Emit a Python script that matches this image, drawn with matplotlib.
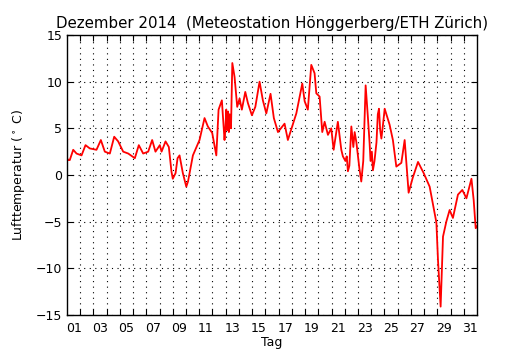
import matplotlib
matplotlib.use("Agg")
import matplotlib.pyplot as plt
from matplotlib.ticker import FixedLocator, NullFormatter, FixedFormatter

# days since 1 Dec 2014 00:00
day = [0.00, 0.09, 0.21, 0.47, 0.72, 1.10, 1.40, 1.72, 2.23, 2.56, 2.86, 3.24,
       3.57, 3.87, 4.25, 4.63, 5.13, 5.43, 5.76, 6.14, 6.44, 6.69, 7.02, 7.15,
       7.45, 7.70, 7.90, 8.00, 8.21, 8.36, 8.51, 8.76, 9.02, 9.15, 9.52, 10.02,
       10.40, 10.65, 10.98, 11.29, 11.46, 11.71, 11.91, 11.98, 12.04, 12.12, 12.18,
       12.24, 12.30, 12.40, 12.50, 12.67,
       12.87, 13.05, 13.22, 13.48, 13.68, 13.98, 14.24, 14.56, 14.81, 15.07, 15.39,
       15.64, 15.95, 16.45, 16.70, 17.34, 17.79, 17.97, 18.21, 18.47, 18.72, 18.85,
       19.10, 19.30, 19.48, 19.73, 19.98, 20.16, 20.30, 20.48, 20.60, 20.74, 20.86,
       21.05, 21.15, 21.24, 21.35, 21.50, 21.65, 21.75, 21.88, 22.00, 22.10, 22.25,
       22.40, 22.58, 22.75, 22.88, 22.95, 23.05, 23.13, 23.25, 23.40, 23.50, 23.59,
       23.68, 23.77, 23.90, 24.02, 24.39, 24.64,
       24.90, 25.28, 25.53, 25.83, 26.14, 26.54, 26.97, 27.42, 27.93, 28.05, 28.25,
       28.43, 28.68, 28.93, 29.18, 29.56, 29.89, 30.20, 30.58, 30.75, 30.90, 31.00]
temp = [1.8, 1.6, 1.6, 2.7, 2.3, 2.1, 3.2, 2.85, 2.7, 3.75, 2.5, 2.3,
        4.1, 3.6, 2.5, 2.3, 1.8, 3.2, 2.3, 2.5, 3.75, 2.5, 3.2, 2.5,
        3.6, 3.0, 0.35, -0.4, 0.2, 1.8, 2.1, 0.2, -1.25, -0.7, 2.1, 3.75,
        6.1, 5.2, 4.5, 2.1, 7.0, 8.0, 3.75, 5.0, 7.0, 4.8, 6.8,
        4.6, 6.5, 5.0, 12.0, 10.5,
        7.3, 8.2, 7.0, 8.9, 7.7, 6.4, 7.3, 10.0, 8.0, 6.6, 8.7,
        6.1, 4.6, 5.5, 3.75, 6.6, 9.8, 7.9, 7.0, 11.8, 10.9, 8.75,
        8.4, 4.6, 5.7, 4.3, 5.0, 2.7, 4.0, 5.7, 4.3, 2.7, 2.0,
        1.5, 2.0, 0.4, 1.0, 5.2, 3.0, 4.6, 3.5, 2.0, 0.8, -0.7,
        1.5, 9.6, 6.2, 3.4, 1.5, 2.5, 0.5, 1.5, 3.5, 6.5, 7.1,
        4.8, 3.9, 5.5, 7.1, 5.4, 3.75,
        0.9, 1.3, 3.75, -1.9, -0.3, 1.4, 0.2, -1.25, -5.1, -9.1, -14.1,
        -6.6, -5.0, -3.75, -4.6, -2.1, -1.6, -2.5, -0.4, -2.7, -5.7, -5.5]

yticks = [-15, -10, -5, 0, 5, 10, 15]
day_labels = ["01", "03", "05", "07", "09", "11", "13", "15", "17", "19",
              "21", "23", "25", "27", "29", "31"]

fig = plt.figure(figsize=(5.3, 3.5), dpi=100)
ax = fig.add_axes([0.1264, 0.1, 0.7736, 0.8])
ax.plot(day, temp, color="red", linewidth=1.3)

ax.set_xlim(0, 31)
ax.set_ylim(-15, 15)
ax.set_yticks(yticks)

ax.xaxis.set_major_locator(FixedLocator(list(range(1, 31))))
ax.xaxis.set_major_formatter(NullFormatter())
ax.xaxis.set_minor_locator(FixedLocator([i + 0.5 for i in range(0, 31, 2)]))
ax.xaxis.set_minor_formatter(FixedFormatter(day_labels))
ax.tick_params(axis="x", which="minor", length=0, labelsize=9, pad=5)
ax.tick_params(axis="both", which="major", direction="in", length=4,
               top=True, right=True, labelsize=9, width=0.8)
ax.grid(True, which="major", color="black", linestyle=(0, (1, 4)), linewidth=0.8)

for s in ax.spines.values():
    s.set_linewidth(1.0)

ax.set_title("Dezember 2014  (Meteostation Hönggerberg/ETH Zürich)", fontsize=10.8, pad=5)
ax.set_xlabel("Tag", fontsize=9, labelpad=0.5)
ax.set_ylabel("Lufttemperatur ($^\\circ$ C)", fontsize=9, labelpad=6)

fig.savefig("out.png", dpi=100)
